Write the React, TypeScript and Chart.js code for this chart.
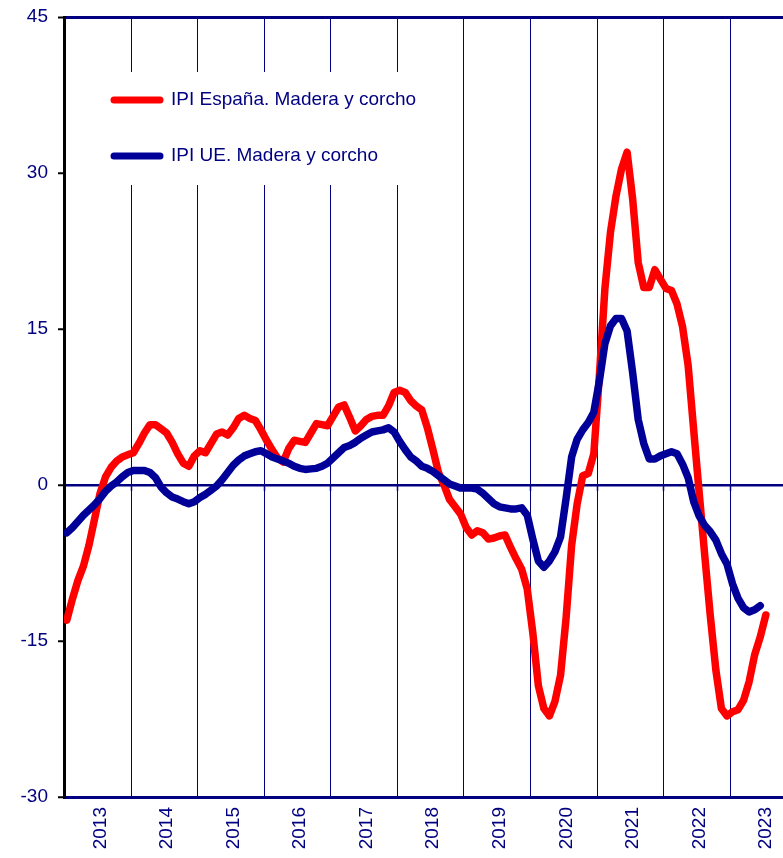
import React, { useEffect, useRef } from "react";
import { Chart, registerables } from "chart.js";

Chart.register(...registerables);

// Year labels (category axis, one per year)
const years = ["2013", "2014", "2015", "2016", "2017", "2018", "2019", "2020", "2021", "2022", "2023"];

// Y-axis tick values
const yTicks = [-30, -15, 0, 15, 30, 45];

// Monthly values, Jan 2013 onwards
const spainWood = [
  -13.0, -11.0, -9.2, -7.8, -5.8, -3.3, -0.8, 0.8, 1.7, 2.3, 2.7, 2.9, // 2013
  3.1, 4.0, 5.0, 5.8, 5.8, 5.4, 5.0, 4.1, 3.0, 2.1, 1.8, 2.8, // 2014
  3.3, 3.1, 4.0, 4.9, 5.1, 4.8, 5.5, 6.4, 6.7, 6.4, 6.2, 5.3, // 2015
  4.3, 3.4, 2.6, 2.2, 3.5, 4.3, 4.2, 4.1, 5.0, 5.9, 5.8, 5.7, // 2016
  6.6, 7.5, 7.7, 6.5, 5.2, 5.7, 6.3, 6.6, 6.7, 6.7, 7.6, 8.9, // 2017
  9.1, 8.9, 8.1, 7.6, 7.2, 5.5, 3.4, 1.2, 0.0, -1.4, -2.1, -2.8, // 2018
  -4.1, -4.8, -4.4, -4.6, -5.2, -5.1, -4.9, -4.8, -6.0, -7.1, -8.1, -10.0, // 2019
  -14.2, -19.3, -21.5, -22.2, -20.8, -18.3, -12.8, -5.8, -1.8, 0.9, 1.1, 3.0, // 2020
  10.5, 18.9, 24.3, 27.8, 30.4, 32.0, 27.5, 21.4, 19.0, 19.0, 20.7, 19.8, // 2021
  18.9, 18.7, 17.4, 15.2, 11.5, 5.3, -0.8, -6.8, -12.6, -17.8, -21.5, -22.2, // 2022
  -21.8, -21.6, -20.7, -18.9, -16.3, -14.6, -12.5, // 2023
];

const euWood = [
  -4.6, -4.1, -3.5, -2.9, -2.4, -1.9, -1.3, -0.6, -0.1, 0.3, 0.8, 1.2, // 2013
  1.4, 1.4, 1.4, 1.2, 0.7, -0.2, -0.75, -1.15, -1.35, -1.6, -1.8, -1.6, // 2014
  -1.2, -0.9, -0.5, -0.1, 0.5, 1.2, 1.9, 2.4, 2.8, 3.0, 3.2, 3.3, // 2015
  3.0, 2.7, 2.5, 2.3, 2.1, 1.8, 1.6, 1.5, 1.55, 1.6, 1.8, 2.1, // 2016
  2.6, 3.1, 3.6, 3.8, 4.1, 4.5, 4.8, 5.1, 5.2, 5.3, 5.5, 5.1, // 2017
  4.2, 3.4, 2.7, 2.3, 1.8, 1.6, 1.3, 0.9, 0.5, 0.1, -0.1, -0.3, // 2018
  -0.3, -0.3, -0.4, -0.8, -1.3, -1.8, -2.1, -2.2, -2.3, -2.3, -2.2, -2.9, // 2019
  -5.2, -7.3, -7.9, -7.3, -6.4, -5.0, -1.3, 2.7, 4.4, 5.3, 6.0, 7.0, // 2020
  10.0, 13.6, 15.3, 16.0, 16.0, 14.8, 10.8, 6.3, 4.0, 2.5, 2.5, 2.8, // 2021
  3.0, 3.2, 3.0, 2.0, 0.7, -1.6, -3.0, -3.9, -4.5, -5.3, -6.6, -7.6, // 2022
  -9.5, -10.9, -11.8, -12.2, -12.0, -11.6, // 2023
];

const seriesLabels = ["IPI España. Madera y corcho", "IPI UE. Madera y corcho"];

const NAVY = "#000080";
const RED = "#ff0000";
const BLUE = "#000099";
const FONT = "'Liberation Sans', Arial, sans-serif";

const toPoints = (arr: number[]) => arr.map((v, i) => ({ x: i + 0.5, y: v }));

const overlayPlugin = {
  id: "overlay",
  beforeDatasetsDraw(chart: any) {
    const { ctx, chartArea, scales } = chart;
    const x = scales.x;
    const y = scales.y;
    ctx.save();
    // year boundary grid lines
    ctx.strokeStyle = NAVY;
    ctx.lineWidth = 1;
    const bounds = years.slice(1).map((_, k) => (k + 1) * 12);
    const y0 = y.getPixelForValue(0);
    for (const b of bounds) {
      const px = Math.round(x.getPixelForValue(b)) + 0.5;
      ctx.beginPath();
      ctx.moveTo(px, chartArea.top);
      ctx.lineTo(px, chartArea.bottom);
      ctx.stroke();
    }
    // small ticks under the zero axis
    ctx.lineWidth = 1.5;
    for (const b of bounds) {
      const px = Math.round(x.getPixelForValue(b)) + 0.5;
      ctx.beginPath();
      ctx.moveTo(px, y0);
      ctx.lineTo(px, y0 + 6);
      ctx.stroke();
    }
    // legend box
    ctx.fillStyle = "#ffffff";
    ctx.fillRect(100, 72, 340, 113);
    const rows = [
      { color: RED, label: seriesLabels[0], yy: 100 },
      { color: BLUE, label: seriesLabels[1], yy: 156 },
    ];
    for (const r of rows) {
      ctx.strokeStyle = r.color;
      ctx.lineWidth = 7;
      ctx.lineCap = "round";
      ctx.beginPath();
      ctx.moveTo(114, r.yy);
      ctx.lineTo(160, r.yy);
      ctx.stroke();
      ctx.fillStyle = NAVY;
      ctx.font = `19px ${FONT}`;
      ctx.textBaseline = "middle";
      ctx.textAlign = "left";
      ctx.fillText(r.label, 171, r.yy);
    }
    ctx.restore();
  },
};

export default function App() {
  const ref = useRef<HTMLCanvasElement | null>(null);
  useEffect(() => {
    if (!ref.current) return;
    const chart = new Chart(ref.current, {
      type: "line",
      data: {
        datasets: [
          {
            label: seriesLabels[0],
            data: toPoints(spainWood),
            borderColor: RED,
            backgroundColor: RED,
            borderWidth: 7.5,
            pointRadius: 0,
            order: 1,
          },
          {
            label: seriesLabels[1],
            data: toPoints(euWood),
            borderColor: BLUE,
            backgroundColor: BLUE,
            borderWidth: 7.5,
            pointRadius: 0,
            order: 0,
          },
        ],
      },
      options: {
        animation: false,
        responsive: false,
        layout: { padding: { top: 17, right: 0, left: 0, bottom: 0 } },
        plugins: { legend: { display: false }, tooltip: { enabled: false } },
        elements: {
          line: { tension: 0, borderCapStyle: "round", borderJoinStyle: "round" },
          point: { radius: 0 },
        },
        scales: {
          x: {
            type: "linear",
            min: 0,
            max: 129.6,
            afterBuildTicks: (s: any) => {
              s.ticks = years.map((_, k) => ({ value: k * 12 + 6 }));
            },
            afterFit: (s: any) => {
              s.height = 61;
              s.paddingLeft = 0;
              s.paddingRight = 0;
            },
            grid: { display: false, drawTicks: false },
            border: { display: true, color: NAVY, width: 3 },
            ticks: {
              autoSkip: false,
              maxRotation: 90,
              minRotation: 90,
              padding: 10,
              labelOffset: 3,
              color: NAVY,
              font: { family: FONT, size: 19 },
              callback: (_v: any, i: number) => years[i],
            },
          },
          y: {
            min: -30,
            max: 45,
            afterBuildTicks: (s: any) => {
              s.ticks = yTicks.map((v) => ({ value: v }));
            },
            afterFit: (s: any) => {
              s.width = 64;
              s.paddingTop = 0;
              s.paddingBottom = 0;
            },
            grid: {
              color: (c: any) =>
                c.tick && (c.tick.value === 0 || c.tick.value === 45) ? NAVY : "rgba(0,0,0,0)",
              lineWidth: (c: any) => (c.tick && c.tick.value === 45 ? 3 : 2.5),
              tickColor: "#000000",
              tickLength: 6,
              tickWidth: 2,
            },
            border: { display: true, color: "#000000", width: 3 },
            ticks: {
              color: NAVY,
              padding: 10,
              font: { family: FONT, size: 19 },
              callback: (v: any) => String(v),
            },
          },
        },
      },
      plugins: [overlayPlugin],
    });
    return () => chart.destroy();
  }, []);

  return (
    <div style={{ position: "absolute", left: 0, top: 0, width: 783, height: 858, background: "#fff" }}>
      <canvas ref={ref} width={783} height={858} style={{ display: "block" }} />
    </div>
  );
}
